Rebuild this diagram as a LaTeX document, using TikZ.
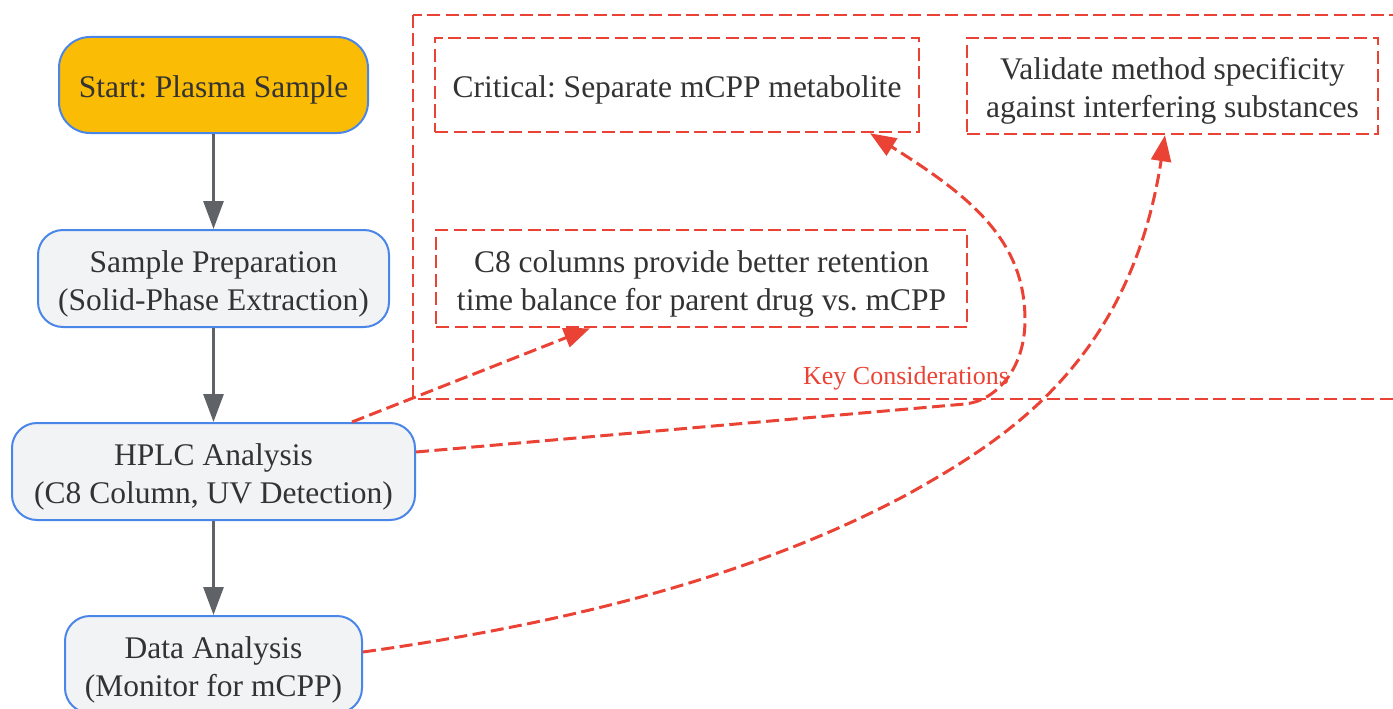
\documentclass[tikz,border=0pt]{standalone}
\usepackage{fontspec}
\setmainfont{Liberation Serif}
\usetikzlibrary{arrows.meta,calc}
\definecolor{txt}{HTML}{333333}
\definecolor{bluebd}{HTML}{4A86E8}
\definecolor{gold}{HTML}{FBBC05}
\definecolor{lightbg}{HTML}{F1F3F5}
\definecolor{redc}{HTML}{EA4335}
\definecolor{grayc}{HTML}{5F6368}
\newcommand{\lowtext}[1]{\raisebox{-5pt}[\height][\depth]{\begin{tabular}{@{}c@{}}#1\end{tabular}}}
\frenchspacing
\begin{document}
\begin{tikzpicture}[x=1pt,y=-1pt,
  nodefont/.style={font=\fontsize{31.5}{38}\selectfont\frenchspacing},
  proc/.style={draw=bluebd,line width=2pt,fill=lightbg,rounded corners=25pt,align=center,text=txt,nodefont,inner sep=0pt},
  startnode/.style={proc,fill=gold,rounded corners=31pt},
  note/.style={draw=redc,line width=2.5pt,dash pattern=on 13pt off 5.5pt,align=center,text=txt,nodefont,inner sep=0pt},
  flow/.style={draw=grayc,line width=3pt,-{Triangle[length=28pt,width=20pt]}},
  link/.style={draw=redc,line width=3pt,dash pattern=on 13pt off 5.5pt,-{Triangle[length=26pt,width=20pt]}},
  cluster/.style={draw=redc,line width=2.5pt,dash pattern=on 13pt off 5.5pt}]
\useasboundingbox (0,0) rectangle (1393,709);
\clip (0,0) rectangle (1393,709);
% cluster
\draw[cluster] (413,15) rectangle (1430,399);
\node[text=redc,font=\fontsize{26}{30}\selectfont] (keylbl) at (906,378) {Key Considerations};
% main flow
\node[startnode,minimum width=309pt,minimum height=96pt] (start) at (213.5,85) {\lowtext{Start: Plasma Sample}};
\node[proc,minimum width=351pt,minimum height=97pt] (prep) at (213.5,278.5) {\lowtext{Sample Preparation\\(Solid-Phase Extraction)}};
\node[proc,minimum width=403pt,minimum height=97pt] (hplc) at (213.5,471.5) {\lowtext{HPLC Analysis\\(C8 Column, UV Detection)}};
\node[proc,minimum width=297pt,minimum height=97pt] (data) at (213.5,664.5) {\lowtext{Data Analysis\\(Monitor for mCPP)}};
% notes
\node[note,minimum width=484pt,minimum height=94pt] (crit) at (677,85) {\lowtext{Critical: Separate mCPP metabolite}};
\node[note,minimum width=411pt,minimum height=96pt] (valid) at (1172.5,86) {\lowtext{Validate method specificity\\against interfering substances}};
\node[note,minimum width=531pt,minimum height=97pt] (c8) at (701.5,278.5) {\lowtext{C8 columns provide better retention\\time balance for parent drug vs. mCPP}};
% flow arrows
\draw[flow] (start.south) -- (prep.north);
\draw[flow] (prep.south) -- (hplc.north);
\draw[flow] (hplc.south) -- (data.north);
% dashed links
\draw[link] ([xshift=138.5pt]hplc.north) -- ([xshift=-111.5pt]c8.south);
\draw[link] ([yshift=19.5pt]hplc.east) -- (965,404) .. controls (995,401) and (1025,370) .. (1025,320) .. controls (1025,240) and (970,196) .. ([xshift=193pt]crit.south);
\draw[link] ([yshift=12.5pt]data.east) .. controls (542,627) and (743,583) .. (910,493) .. controls (1004,440) and (1130,363) .. ([xshift=-7.5pt]valid.south);
\end{tikzpicture}
\end{document}
